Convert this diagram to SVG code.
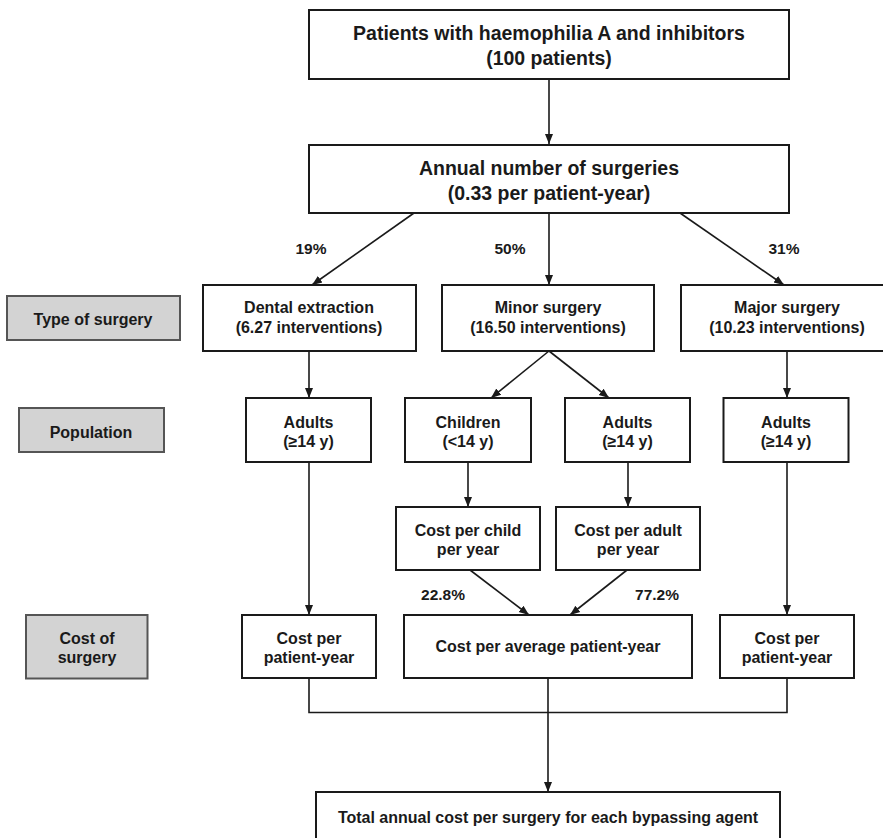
<svg xmlns="http://www.w3.org/2000/svg" width="883" height="838" viewBox="0 0 883 838">
<style>
text{font-family:"Liberation Sans",Arial,Helvetica,sans-serif;font-weight:bold;fill:#1a1a1a;text-anchor:middle}
.main{font-size:19.5px}
.sec{font-size:16px}
.lab{font-size:15.5px}
.box{fill:#fff;stroke:#1a1a1a;stroke-width:2}
.grey{fill:#d3d3d3;stroke:#555;stroke-width:2}
.con{fill:none;stroke:#1a1a1a;stroke-width:1.6}
</style>
<defs>
<marker id="ah" markerUnits="userSpaceOnUse" markerWidth="10" markerHeight="10" viewBox="0 0 10 10" refX="10" refY="5" orient="auto">
<path d="M0,1 L10,5 L0,9 Z" fill="#1a1a1a"/>
</marker>
</defs>
<rect width="883" height="838" fill="#fff"/>
<g id="connectors">
<line class="con" x1="549" y1="79" x2="549" y2="144" marker-end="url(#ah)"/>
<line class="con" x1="414" y1="213" x2="312" y2="285" marker-end="url(#ah)"/>
<line class="con" x1="549" y1="213" x2="549" y2="285" marker-end="url(#ah)"/>
<line class="con" x1="680" y1="213" x2="784" y2="285" marker-end="url(#ah)"/>
<line class="con" x1="309" y1="351" x2="309" y2="398" marker-end="url(#ah)"/>
<line class="con" x1="549" y1="351" x2="491" y2="398" marker-end="url(#ah)"/>
<line class="con" x1="549" y1="351" x2="609" y2="398" marker-end="url(#ah)"/>
<line class="con" x1="787" y1="351" x2="787" y2="398" marker-end="url(#ah)"/>
<line class="con" x1="468" y1="462" x2="468" y2="507" marker-end="url(#ah)"/>
<line class="con" x1="628" y1="462" x2="628" y2="507" marker-end="url(#ah)"/>
<line class="con" x1="309" y1="462" x2="309" y2="615" marker-end="url(#ah)"/>
<line class="con" x1="787" y1="462" x2="787" y2="615" marker-end="url(#ah)"/>
<line class="con" x1="470" y1="570" x2="529" y2="615" marker-end="url(#ah)"/>
<line class="con" x1="627" y1="570" x2="570" y2="615" marker-end="url(#ah)"/>
<polyline class="con" points="309,678 309,712.5 787,712.5 787,678"/>
<line class="con" x1="548" y1="678" x2="548" y2="792" marker-end="url(#ah)"/>
<text class="lab" x="311" y="253.5">19%</text>
<text class="lab" x="510" y="253.5">50%</text>
<text class="lab" x="784" y="253.5">31%</text>
<text class="lab" x="443" y="599.5">22.8%</text>
<text class="lab" x="657" y="599.5">77.2%</text>
</g>
<g id="n_patients"><rect class="box" x="309" y="10" width="480" height="69"/>
<text class="main" x="549" y="40">Patients with haemophilia A and inhibitors</text>
<text class="main" x="549" y="65">(100 patients)</text></g>
<g id="n_annual"><rect class="box" x="309" y="145" width="480" height="68"/>
<text class="main" x="549" y="175">Annual number of surgeries</text>
<text class="main" x="549" y="200">(0.33 per patient-year)</text></g>
<g id="g_type"><rect class="grey" x="7" y="296" width="173" height="44"/>
<text class="sec" x="93" y="324.5">Type of surgery</text></g>
<g id="n_dental"><rect class="box" x="203" y="285" width="213" height="66"/>
<text class="sec" x="309" y="313">Dental extraction</text>
<text class="sec" x="309" y="332.5">(6.27 interventions)</text></g>
<g id="n_minor"><rect class="box" x="442" y="285" width="212" height="66"/>
<text class="sec" x="548" y="313">Minor surgery</text>
<text class="sec" x="548" y="332.5">(16.50 interventions)</text></g>
<g id="n_major"><rect class="box" x="681" y="285" width="212" height="66"/>
<text class="sec" x="787" y="313">Major surgery</text>
<text class="sec" x="787" y="332.5">(10.23 interventions)</text></g>
<g id="g_population"><rect class="grey" x="19" y="408" width="145" height="44"/>
<text class="sec" x="91" y="437.5">Population</text></g>
<g id="n_adults1"><rect class="box" x="246" y="398" width="125" height="64"/>
<text class="sec" x="308.5" y="427.5">Adults</text>
<text class="sec" x="308.5" y="447">(≥14 y)</text></g>
<g id="n_children"><rect class="box" x="405" y="398" width="126" height="64"/>
<text class="sec" x="468" y="427.5">Children</text>
<text class="sec" x="468" y="447">(&lt;14 y)</text></g>
<g id="n_adults2"><rect class="box" x="565" y="398" width="125" height="64"/>
<text class="sec" x="627.5" y="427.5">Adults</text>
<text class="sec" x="627.5" y="447">(≥14 y)</text></g>
<g id="n_adults3"><rect class="box" x="723.5" y="398" width="125" height="64"/>
<text class="sec" x="786" y="427.5">Adults</text>
<text class="sec" x="786" y="447">(≥14 y)</text></g>
<g id="n_costchild"><rect class="box" x="396" y="507" width="144" height="63"/>
<text class="sec" x="468" y="535.5">Cost per child</text>
<text class="sec" x="468" y="554.5">per year</text></g>
<g id="n_costadult"><rect class="box" x="556" y="507" width="144" height="63"/>
<text class="sec" x="628" y="535.5">Cost per adult</text>
<text class="sec" x="628" y="554.5">per year</text></g>
<g id="g_cost"><rect class="grey" x="26" y="615" width="121.5" height="63.5"/>
<text class="sec" x="87" y="644">Cost of</text>
<text class="sec" x="87" y="663">surgery</text></g>
<g id="n_cost_left"><rect class="box" x="242" y="615" width="134" height="63"/>
<text class="sec" x="309" y="644">Cost per</text>
<text class="sec" x="309" y="663">patient-year</text></g>
<g id="n_cost_avg"><rect class="box" x="404" y="615" width="288" height="63"/>
<text class="sec" x="548" y="652">Cost per average patient-year</text></g>
<g id="n_cost_right"><rect class="box" x="720" y="615" width="134" height="63"/>
<text class="sec" x="787" y="644">Cost per</text>
<text class="sec" x="787" y="663">patient-year</text></g>
<g id="n_total"><rect class="box" x="316" y="792" width="464" height="60"/>
<text class="sec" x="548" y="823">Total annual cost per surgery for each bypassing agent</text></g>
</svg>
